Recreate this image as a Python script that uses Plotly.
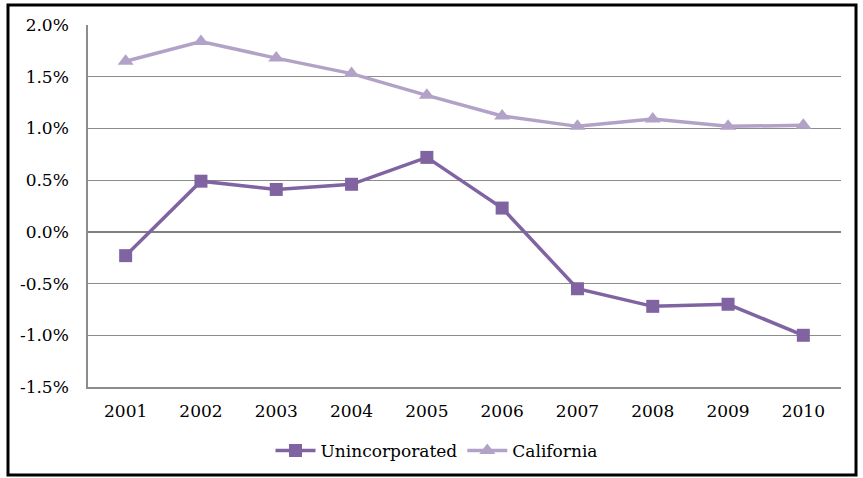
import plotly.graph_objects as go

years = [2001, 2002, 2003, 2004, 2005, 2006, 2007, 2008, 2009, 2010]
unincorporated = [-0.23, 0.49, 0.41, 0.46, 0.72, 0.23, -0.55, -0.72, -0.70, -1.00]
california = [1.65, 1.84, 1.68, 1.53, 1.32, 1.12, 1.02, 1.09, 1.02, 1.03]
y_ticks = [-1.5, -1.0, -0.5, 0.0, 0.5, 1.0, 1.5, 2.0]

W, H = 863, 478
L, R, T, B = 88, 22, 25, 91
pw, ph = W - L - R, H - T - B

fig = go.Figure()
fig.add_trace(go.Scatter(
    x=years, y=unincorporated, name="Unincorporated", mode="lines+markers",
    line=dict(color="#8064A2", width=3.5),
    marker=dict(symbol="square", size=13, color="#8064A2"),
))
fig.add_trace(go.Scatter(
    x=years, y=california, name="California", mode="lines+markers",
    line=dict(color="#B3A2C7", width=3.5),
    marker=dict(symbol="triangle-up", size=14, color="#B3A2C7"),
))

def px(x):
    return (x - L) / pw

def py(y):
    return (H - B - y) / ph

fig.add_shape(type="rect", xref="paper", yref="paper",
              x0=px(8), x1=px(856), y0=py(475), y1=py(5),
              line=dict(color="black", width=3), fillcolor="rgba(0,0,0,0)")

font = dict(family="DejaVu Serif", size=17, color="black")
fig.update_layout(
    width=W, height=H,
    margin=dict(l=L, r=R, t=T, b=B, pad=0, autoexpand=False),
    paper_bgcolor="white", plot_bgcolor="white",
    font=font,
    showlegend=True,
    legend=dict(orientation="h", x=px(437), xanchor="center", y=py(451), yanchor="middle",
                font=font, itemwidth=40, tracegroupgap=0, bgcolor="rgba(0,0,0,0)"),
    xaxis=dict(
        range=[2000.5, 2010.5], tickvals=years, ticktext=[str(y) for y in years],
        showgrid=False, showline=True, linecolor="#8c8c8c", linewidth=1.5,
        ticks="", zeroline=False, ticklabelstandoff=8, fixedrange=True, automargin=False,
    ),
    yaxis=dict(
        range=[-1.5, 2.0], tickvals=y_ticks, ticktext=[f"{v:.1f}%" for v in y_ticks],
        showgrid=True, gridcolor="#8c8c8c", gridwidth=1,
        showline=True, linecolor="#8c8c8c", linewidth=1.5,
        zeroline=True, zerolinecolor="#808080", zerolinewidth=1.5,
        ticks="", ticklabelstandoff=14, fixedrange=True, automargin=False,
    ),
)

fig.write_html(
    "out.html",
    config={"displayModeBar": False},
    post_script="document.body.style.margin='0';document.body.style.padding='0';",
)
